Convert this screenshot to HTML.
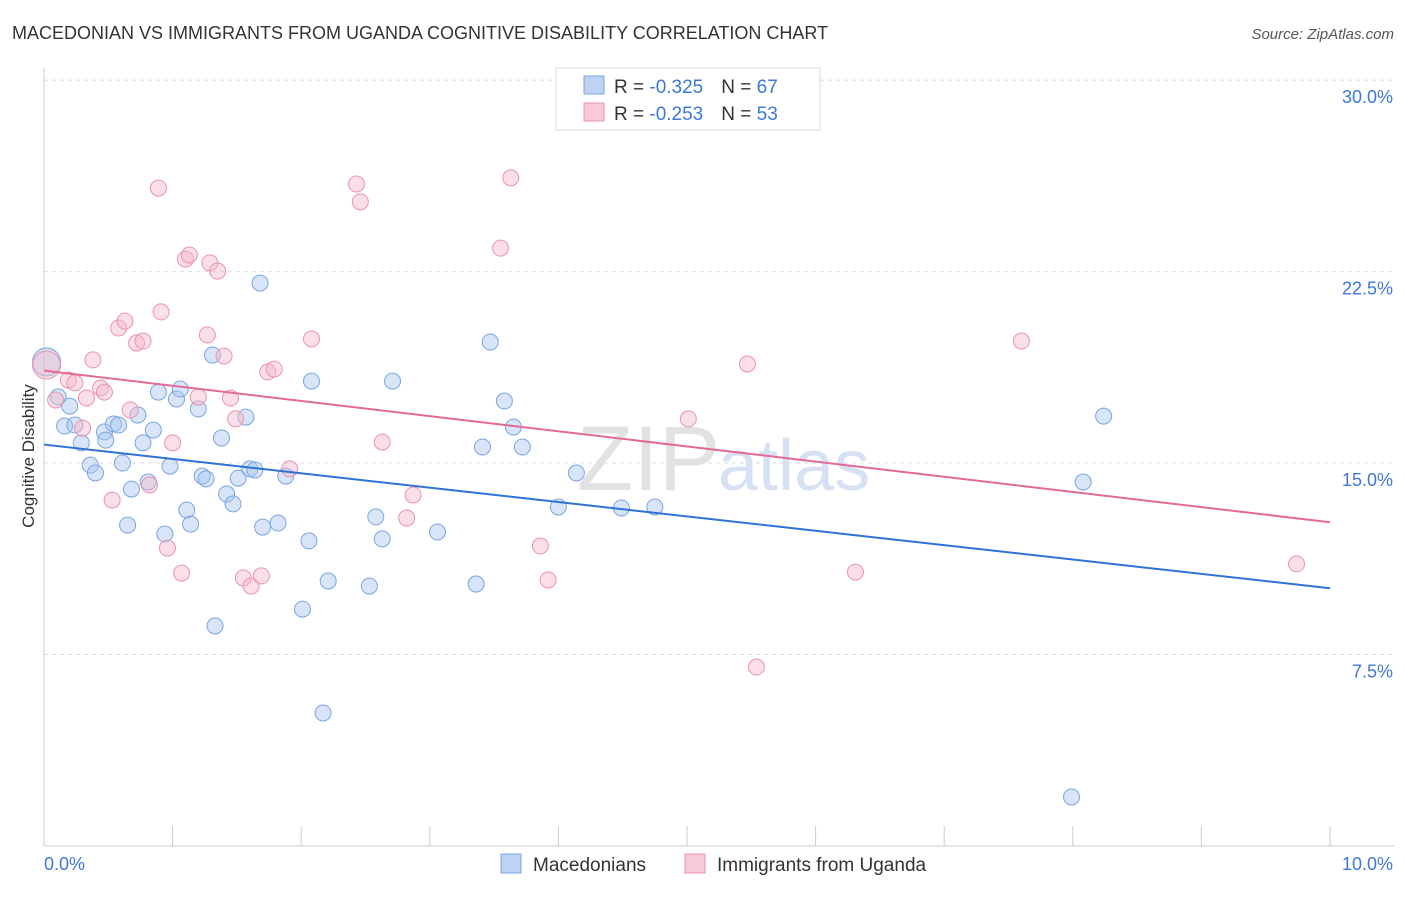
<!DOCTYPE html>
<html><head><meta charset="utf-8"><style>
body{margin:0;background:#fff;font-family:"Liberation Sans",sans-serif;}
svg text{font-family:"Liberation Sans",sans-serif;}
</style></head><body>
<svg id="chart" width="1406" height="892">
<text x="12" y="39" font-size="18" fill="#333">MACEDONIAN VS IMMIGRANTS FROM UGANDA COGNITIVE DISABILITY CORRELATION CHART</text>
<text x="1394" y="39" font-size="15" fill="#555" font-style="italic" text-anchor="end">Source: ZipAtlas.com</text>
<text x="720" y="490" font-size="92" fill="#e2e2e2" text-anchor="end" font-family="Liberation Serif">ZIP</text>
<text x="718" y="490" font-size="72" fill="#d6e2f4">atlas</text>
<g id="grid"></g><g id="axes"></g><g id="pts"></g><g id="lines"></g>
<text transform="translate(34,456) rotate(-90)" font-size="17" fill="#333" text-anchor="middle">Cognitive Disability</text>
<g>
<rect x="556" y="68" width="264" height="62" fill="#fff" stroke="#ddd"/>
<rect x="584" y="76" width="20" height="18" fill="#bcd3f4" stroke="#7aa5e0"/>
<rect x="584" y="103" width="20" height="18" fill="#f8c9d7" stroke="#eb93b0"/>
<text x="614" y="93" font-size="19" fill="#333">R = <tspan fill="#3d78d8">-0.325</tspan><tspan dx="18">N = </tspan><tspan fill="#3d78d8">67</tspan></text>
<text x="614" y="120" font-size="19" fill="#333">R = <tspan fill="#3d78d8">-0.253</tspan><tspan dx="18">N = </tspan><tspan fill="#3d78d8">53</tspan></text>
</g>
<g>
<rect x="501" y="854" width="20" height="19" fill="#bcd3f4" stroke="#7aa5e0"/>
<text x="533" y="871" font-size="19" fill="#333">Macedonians</text>
<rect x="685" y="854" width="20" height="19" fill="#f8c9d7" stroke="#eb93b0"/>
<text x="717" y="871" font-size="19" fill="#333">Immigrants from Uganda</text>
</g>
</svg>
<script>
const blueX=[0.02,0.11,0.16,0.20,0.24,0.29,0.36,0.40,0.47,0.48,0.54,0.58,0.61,0.65,0.68,0.73,0.77,0.81,0.85,0.89,0.94,0.98,1.03,1.06,1.11,1.14,1.20,1.23,1.26,1.31,1.33,1.38,1.42,1.47,1.51,1.57,1.60,1.64,1.68,1.70,1.82,1.88,2.06,2.01,2.08,2.17,2.21,2.53,2.58,2.63,2.71,3.06,3.36,3.41,3.47,3.58,3.65,3.72,4.00,4.14,4.49,4.75,7.99,8.08,8.24];
const blueY=[18.96,17.59,16.45,17.23,16.49,15.79,14.92,14.61,16.22,15.90,16.53,16.49,15.00,12.57,13.98,16.88,15.79,14.26,16.29,17.78,12.22,14.88,17.51,17.90,13.16,12.61,17.12,14.49,14.38,19.23,8.62,15.98,13.79,13.40,14.41,16.80,14.77,14.73,22.05,12.49,12.65,14.49,11.95,9.28,18.21,5.21,10.38,10.18,12.89,12.03,18.21,12.30,10.26,15.63,19.74,17.43,16.41,15.63,13.28,14.61,13.24,13.28,1.92,14.26,16.84];
const pinkX=[0.02,0.09,0.19,0.24,0.30,0.33,0.38,0.44,0.47,0.53,0.58,0.63,0.67,0.72,0.77,0.82,0.89,0.91,0.96,1.00,1.07,1.10,1.13,1.20,1.27,1.29,1.35,1.40,1.45,1.49,1.55,1.61,1.69,1.74,1.79,1.91,2.08,2.43,2.46,2.63,2.82,2.87,3.55,3.63,3.86,3.92,5.01,5.47,5.54,6.31,7.60,9.74];
const pinkY=[18.84,17.47,18.25,18.14,16.37,17.55,19.04,17.94,17.78,13.55,20.29,20.56,17.08,19.70,19.78,14.14,25.77,20.92,11.67,15.79,10.69,22.99,23.15,17.59,20.02,22.84,22.52,19.19,17.55,16.73,10.50,10.18,10.58,18.57,18.68,14.77,19.86,25.93,25.23,15.82,12.85,13.75,23.42,26.17,11.75,10.42,16.73,18.88,7.01,10.73,19.78,11.05];
const yTicks=[7.5,15,22.5,30];
const yTickLabels=["7.5%","15.0%","22.5%","30.0%"];
const xTickLabels=["0.0%","10.0%"];
const NS="http://www.w3.org/2000/svg";
const X=v=>44+v*128.6, Y=v=>846-v*25.53;
function mk(tag,attrs,parent){const e=document.createElementNS(NS,tag);for(const k in attrs)e.setAttribute(k,attrs[k]);document.getElementById(parent).appendChild(e);return e;}
yTicks.forEach((t,i)=>{
 const g=mk('line',{x1:44,x2:1394,y1:Y(t),y2:Y(t),stroke:'#ddd','stroke-dasharray':'4,4'},'grid');
 
 
 const l=mk('text',{x:1393,y:Y(t)+23,'font-size':18,fill:'#3d78d8','text-anchor':'end'},'grid');
 l.textContent=yTickLabels[i];
 
 
});
const ax=mk('line',{x1:44,x2:44,y1:68,y2:846,stroke:'#ccc'},'axes');


const bx=mk('line',{x1:44,x2:1394,y1:846,y2:846,stroke:'#ccc'},'axes');


for(let i=0;i<=10;i++){const t=mk('line',{x1:X(i),x2:X(i),y1:826,y2:846,stroke:'#ccc'},'axes');
 
 }
[[0,'start'],[10,'end']].forEach((p,i)=>{const t=mk('text',{x:i?1393:44,y:870,'font-size':18,fill:'#3d78d8','text-anchor':p[1]},'axes');t.textContent=xTickLabels[i];
 
 });
function series(xs,ys,fill,stroke,name){
 xs.forEach((x,i)=>{const c=mk('circle',{cx:X(x),cy:Y(ys[i]),r:i===0?14:8,fill:fill,'fill-opacity':0.45,stroke:stroke,'stroke-width':1},'pts');
  
  });
 const n=xs.length;let mx=0,my=0;xs.forEach((x,i)=>{mx+=x;my+=ys[i];});mx/=n;my/=n;
 let sxy=0,sxx=0;xs.forEach((x,i)=>{sxy+=(x-mx)*(ys[i]-my);sxx+=(x-mx)*(x-mx);});
 const b=sxy/sxx,a=my-b*mx;
 const l=mk('line',{x1:X(0),y1:Y(a),x2:X(10),y2:Y(a+b*10),stroke:stroke==='#7aa5e0'?'#2f72d6':'#e46a96','stroke-width':2},'lines');
 
 
}
series(blueX,blueY,'#a9c6f0','#7aa5e0','macedonian');
series(pinkX,pinkY,'#f5b8cb','#eb93b0','uganda');
</script>
</body></html>
